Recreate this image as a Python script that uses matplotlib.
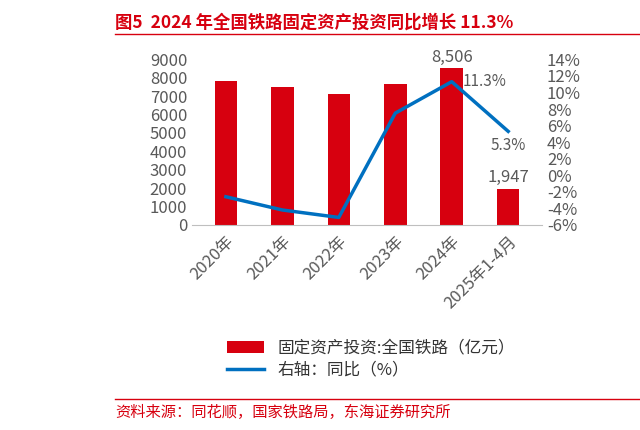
import matplotlib
matplotlib.use("Agg")
import matplotlib.pyplot as plt
from matplotlib.lines import Line2D

plt.rcParams['font.family'] = ['Noto Sans CJK SC', 'DejaVu Sans']

categories = ["2020年", "2021年", "2022年", "2023年", "2024年", "2025年1-4月"]
investment = [7819, 7489, 7109, 7645, 8506, 1947]
yoy = [-2.6, -4.2, -5.1, 7.5, 11.3, 5.3]

RED = "#D7000F"
BLUE = "#0070C0"
GRAY = "#595959"

fig = plt.figure(figsize=(6.4, 4.3), dpi=100)
fig.text(0.18, 0.948, "图5  2024 年全国铁路固定资产投资同比增长 11.3%", color=RED,
         fontsize=12.5, fontweight="bold", ha="left", va="center")
fig.add_artist(Line2D([0.18, 1.0], [0.922, 0.922], color=RED, lw=1))
fig.add_artist(Line2D([0.18, 1.0], [0.072, 0.072], color=RED, lw=1))
fig.text(0.18, 0.04, "资料来源：同花顺，国家铁路局，东海证券研究所", color=RED,
         fontsize=11, ha="left", va="center")

ax = fig.add_axes([0.30, 0.477, 0.547, 0.385])
x = range(len(categories))
bars = ax.bar(x, investment, width=0.4, color=RED, label="固定资产投资:全国铁路（亿元）")
ax.set_ylim(0, 9000)
ax.set_yticks(range(0, 9001, 1000))
ax.set_xlim(-0.6, 5.6)
ax.set_xticks(list(x))
ax.set_xticklabels(categories, rotation=45, ha="right", rotation_mode="anchor")
for s in ["top", "right", "left"]:
    ax.spines[s].set_visible(False)
ax.spines["bottom"].set_color("#BFBFBF")
ax.tick_params(axis="both", colors=GRAY, labelsize=12, length=0)
ax.tick_params(axis="x", pad=6)
for i in (4, 5):
    ax.text(i, investment[i] + 150, f"{investment[i]:,}", ha="center", va="bottom",
            color=GRAY, fontsize=12)

ax2 = ax.twinx()
line, = ax2.plot(list(x), yoy, color=BLUE, lw=2.5, label="右轴：同比（%）")
ax2.set_ylim(-6, 14)
ax2.set_yticks(range(-6, 15, 2))
ax2.set_yticklabels([f"{v}%" for v in range(-6, 15, 2)])
for s in ["top", "right", "left", "bottom"]:
    ax2.spines[s].set_visible(False)
ax2.tick_params(axis="y", colors=GRAY, labelsize=12, length=0)
ax2.text(4.2, 11.3, "11.3%", color=GRAY, fontsize=11, va="center", ha="left")
ax2.text(5.0, 4.6, "5.3%", color=GRAY, fontsize=11, va="top", ha="center")

fig.legend(handles=[bars, line], loc="center", bbox_to_anchor=(0.58, 0.165),
           frameon=False, fontsize=12, labelcolor="#333333", handlelength=2.2,
           labelspacing=0.3)

fig.savefig("out.png", dpi=100)
